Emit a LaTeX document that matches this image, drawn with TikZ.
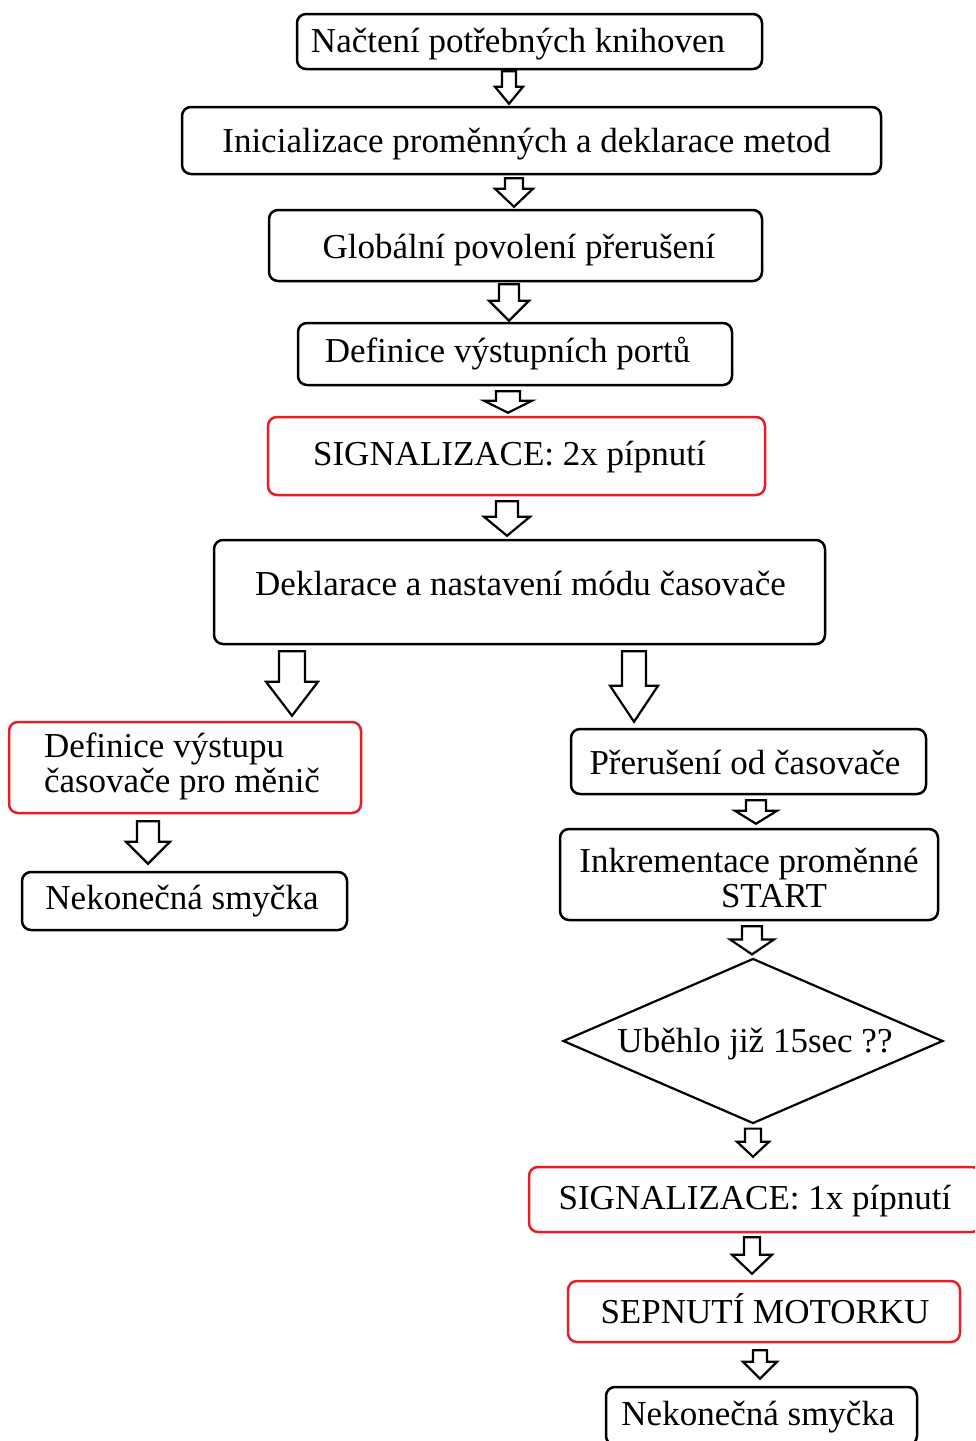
\documentclass[tikz,border=0pt]{standalone}
\usepackage{fontspec}
\setmainfont{Liberation Serif}
\usetikzlibrary{shapes.geometric,calc}
\definecolor{alertred}{RGB}{232,30,38}

% Hollow block arrow pointing down, from the bottom of one node to the top of another.
% #1 x, #2 source node, #3 gap below source, #4 target node, #5 gap above target,
% #6 head length, #7 half shaft width, #8 half head width
\newcommand\hollowarrow[8]{%
  \draw[blockarrow] let \p1=(#2.south), \p2=(#4.north) in
    ({(#1-#7)*1pt},{\y1-#3pt}) -- ({(#1+#7)*1pt},{\y1-#3pt})
    -- ({(#1+#7)*1pt},{\y2+#5pt+#6pt}) -- ({(#1+#8)*1pt},{\y2+#5pt+#6pt})
    -- ({#1*1pt},{\y2+#5pt}) -- ({(#1-#8)*1pt},{\y2+#5pt+#6pt})
    -- ({(#1-#7)*1pt},{\y2+#5pt+#6pt}) -- cycle;}

\tikzset{
  every node/.style={font=\fontsize{35}{35}\selectfont},
  box/.style={draw, line width=2.5pt, rounded corners=9pt, inner sep=0pt},
  blackbox/.style={box, draw=black},
  redbox/.style={box, draw=alertred},
  decision/.style={draw, shape=diamond, line width=2.2pt, aspect=2.3,
    inner sep=0pt, minimum width=380pt, minimum height=165pt},
  blockarrow/.style={draw=black, line width=2.2pt, fill=white, line join=miter},
}

\begin{document}
\begin{tikzpicture}[x=1pt, y=-1pt]
  \useasboundingbox (0,0) rectangle (975,1441);
  \fill[white] (0,0) rectangle (975,1441);
  \clip (0,0) rectangle (975,1441);

  % main column
  \node[blackbox, minimum width=465pt, minimum height=55pt,
    label={[shift={(-11.5,3)}]center:Načtení potřebných knihoven}]
    (libs) at (529.5,41.5) {};
  \node[blackbox, minimum width=699pt, minimum height=67pt,
    label={[shift={(-5,4)}]center:Inicializace proměnných a deklarace metod}]
    (init) at (531.5,140.5) {};
  \node[blackbox, minimum width=493pt, minimum height=71pt,
    label={[shift={(3.5,5)}]center:Globální povolení přerušení}]
    (irq) at (515.5,245.5) {};
  \node[blackbox, minimum width=434pt, minimum height=62pt,
    label={[shift={(-7.5,0)}]center:Definice výstupních portů}]
    (ports) at (515,354) {};
  \node[redbox, minimum width=497pt, minimum height=78pt,
    label={[shift={(-7,1)}]center:SIGNALIZACE: 2x pípnutí}]
    (beep2) at (516.5,456) {};
  \node[blackbox, minimum width=611pt, minimum height=104pt,
    label={[shift={(1,-9)}]center:Deklarace a nastavení módu časovače}]
    (timer) at (519.5,592) {};

  % left branch
  \node[redbox, minimum width=352pt, minimum height=91pt,
    label={[shift={(-3,-1)}, align=left]center:Definice výstupu\\časovače pro měnič}]
    (pwm) at (185,767.5) {};
  \node[blackbox, minimum width=325pt, minimum height=58pt,
    label={[shift={(-2.5,0)}]center:Nekonečná smyčka}]
    (loopL) at (184.5,901) {};

  % right branch
  \node[blackbox, minimum width=355pt, minimum height=65pt,
    label={[shift={(-3.5,1)}]center:Přerušení od časovače}]
    (tirq) at (748.5,761.5) {};
  \node[blackbox, minimum width=378pt, minimum height=91pt,
    label={[shift={(0,3)}, align=center]center:Inkrementace proměnné\\\hspace*{50pt}START}]
    (incr) at (749,874.5) {};
  \node[decision, label={[shift={(2,3)}]center:Uběhlo již 15sec ??}]
    (check) at (753,1041) {};
  \node[redbox, minimum width=452pt, minimum height=65pt,
    label={[shift={(0,1.5)}]center:SIGNALIZACE: 1x pípnutí}]
    (beep1) at (755,1199.5) {};
  \node[redbox, minimum width=392pt, minimum height=61pt,
    label={[shift={(1,-3)}]center:SEPNUTÍ MOTORKU}]
    (motor) at (764,1311.5) {};
  \node[blackbox, minimum width=311pt, minimum height=58pt,
    label={[shift={(-3.5,1)}]center:Nekonečná smyčka}]
    (loopR) at (761.5,1416) {};

  % connectors
  \hollowarrow{509}{libs}{1}{init}{2}{17}{7}{14}
  \hollowarrow{514}{init}{3}{irq}{2}{18}{9}{19}
  \hollowarrow{509}{irq}{2}{ports}{1}{20}{10}{20}
  \hollowarrow{508}{ports}{5}{beep2}{3}{12}{12}{24}
  \hollowarrow{507}{beep2}{5}{timer}{3}{19}{11}{23}
  \hollowarrow{292}{timer}{6}{pwm}{5}{34}{13}{26}
  \hollowarrow{634}{timer}{6}{tirq}{6}{36}{12}{24}
  \hollowarrow{148}{pwm}{7}{loopL}{7}{22}{11}{22}
  \hollowarrow{756}{tirq}{5}{incr}{4}{13}{10}{21}
  \hollowarrow{752}{incr}{5}{check}{3}{15}{10}{22}
  \hollowarrow{753}{check}{4}{beep1}{9}{15}{8}{16}
  \hollowarrow{752}{beep1}{4}{motor}{6}{19}{8}{20}
  \hollowarrow{760}{motor}{7}{loopR}{7}{17}{7}{17}
\end{tikzpicture}
\end{document}
